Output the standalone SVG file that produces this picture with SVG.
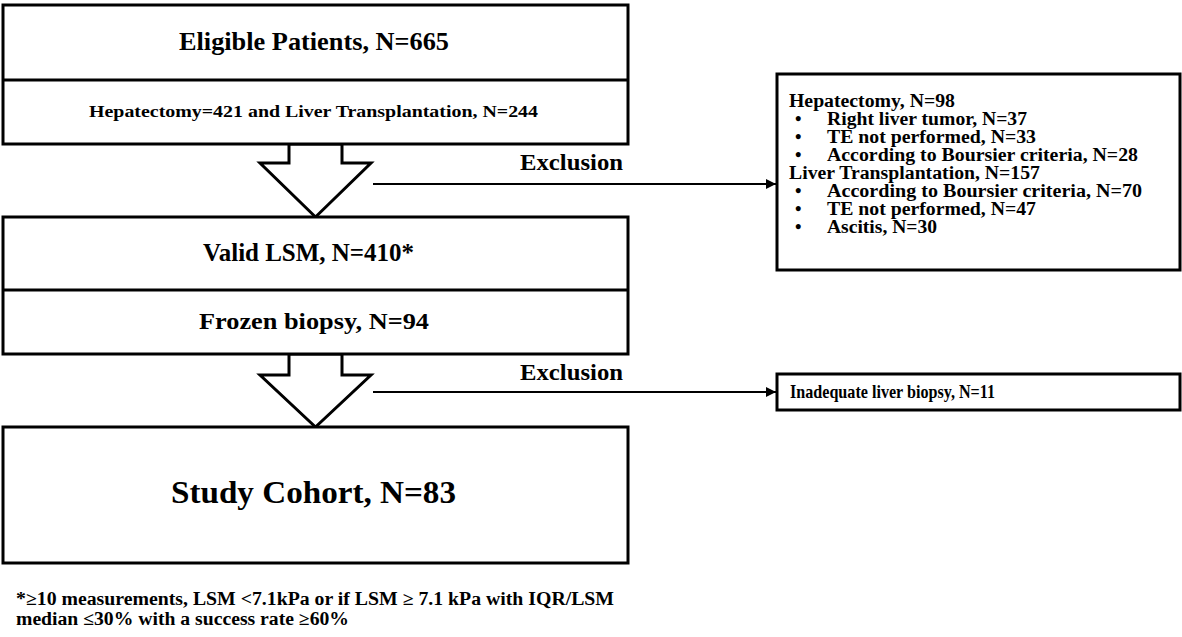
<svg xmlns="http://www.w3.org/2000/svg" width="1182" height="637" viewBox="0 0 1182 637">
<defs>
<style>
.box{fill:#fff;stroke:#000;stroke-width:3}
.div{stroke:#000;stroke-width:3}
.arr{fill:#fff;stroke:#000;stroke-width:3;stroke-linejoin:miter}
.t{font-family:"Liberation Serif","Times New Roman",serif;font-weight:bold;fill:#000}
.ln{stroke:#000;stroke-width:2;fill:none}
</style>
<marker id="ah" viewBox="0 0 10 10" refX="10" refY="5" markerWidth="5" markerHeight="5" orient="auto" markerUnits="strokeWidth">
<path d="M0,0 L10,5 L0,10 z" fill="#000"/>
</marker>
</defs>
<rect width="1182" height="637" fill="#fff"/>

<g id="connectors">
<polygon class="arr" points="289,144 342,144 342,163 371,163 315.5,217 260,163 289,163"/>
<polygon class="arr" points="289,354 342,354 342,375 371,375 315.5,427 260,375 289,375"/>
<line class="ln" x1="373" y1="184" x2="776" y2="184" marker-end="url(#ah)"/>
<line class="ln" x1="373" y1="392" x2="776" y2="392" marker-end="url(#ah)"/>
<text class="t" x="520" y="170" font-size="24" textLength="103" lengthAdjust="spacingAndGlyphs">Exclusion</text>
<text class="t" x="520" y="380" font-size="24" textLength="103" lengthAdjust="spacingAndGlyphs">Exclusion</text>
</g>

<g id="eligible">
<rect class="box" x="3" y="5" width="625" height="139"/>
<line class="div" x1="3" y1="80" x2="628" y2="80"/>
<text class="t" x="179" y="50" font-size="25" textLength="270" lengthAdjust="spacingAndGlyphs">Eligible  Patients, N=665</text>
<text class="t" x="89" y="117" font-size="17" textLength="449" lengthAdjust="spacingAndGlyphs">Hepatectomy=421 and Liver Transplantation,  N=244</text>
</g>

<g id="valid">
<rect class="box" x="3" y="217" width="625" height="137"/>
<line class="div" x1="3" y1="290" x2="628" y2="290"/>
<text class="t" x="203" y="261" font-size="25" textLength="211" lengthAdjust="spacingAndGlyphs">Valid  LSM, N=410*</text>
<text class="t" x="199" y="329" font-size="24" textLength="230" lengthAdjust="spacingAndGlyphs">Frozen biopsy,  N=94</text>
</g>

<g id="cohort">
<rect class="box" x="3" y="427" width="625" height="136"/>
<text class="t" x="171" y="503" font-size="31" textLength="285" lengthAdjust="spacingAndGlyphs">Study Cohort, N=83</text>
</g>

<g id="exclusion1">
<rect class="box" x="777" y="74" width="403" height="196"/>
<g class="t" font-size="18.5">
<text x="789" y="107" textLength="166" lengthAdjust="spacingAndGlyphs">Hepatectomy, N=98</text>
<text x="795" y="125">•<tspan x="827" textLength="200" lengthAdjust="spacingAndGlyphs">Right liver tumor,  N=37</tspan></text>
<text x="795" y="143">•<tspan x="827" textLength="209" lengthAdjust="spacingAndGlyphs">TE not performed,  N=33</tspan></text>
<text x="795" y="161">•<tspan x="827" textLength="311" lengthAdjust="spacingAndGlyphs">According  to Boursier criteria,  N=28</tspan></text>
<text x="789" y="179" textLength="251" lengthAdjust="spacingAndGlyphs">Liver Transplantation,  N=157</text>
<text x="795" y="197">•<tspan x="827" textLength="315" lengthAdjust="spacingAndGlyphs">According  to  Boursier  criteria,  N=70</tspan></text>
<text x="795" y="215">•<tspan x="827" textLength="209" lengthAdjust="spacingAndGlyphs">TE not performed,  N=47</tspan></text>
<text x="795" y="233">•<tspan x="827" textLength="110" lengthAdjust="spacingAndGlyphs">Ascitis, N=30</tspan></text>
</g>
</g>

<g id="exclusion2">
<rect class="box" x="777" y="374" width="403" height="36"/>
<text class="t" x="790" y="398" font-size="19" textLength="205" lengthAdjust="spacingAndGlyphs">Inadequate liver biopsy, N=11</text>
</g>

<g id="footnote">
<text class="t" x="16" y="605" font-size="18" textLength="598" lengthAdjust="spacingAndGlyphs">*≥10 measurements, LSM &lt;7.1kPa or if LSM ≥ 7.1 kPa with  IQR/LSM</text>
<text class="t" x="16" y="625" font-size="18" textLength="333" lengthAdjust="spacingAndGlyphs">median  ≤30% with  a success rate ≥60%</text>
</g>
</svg>
